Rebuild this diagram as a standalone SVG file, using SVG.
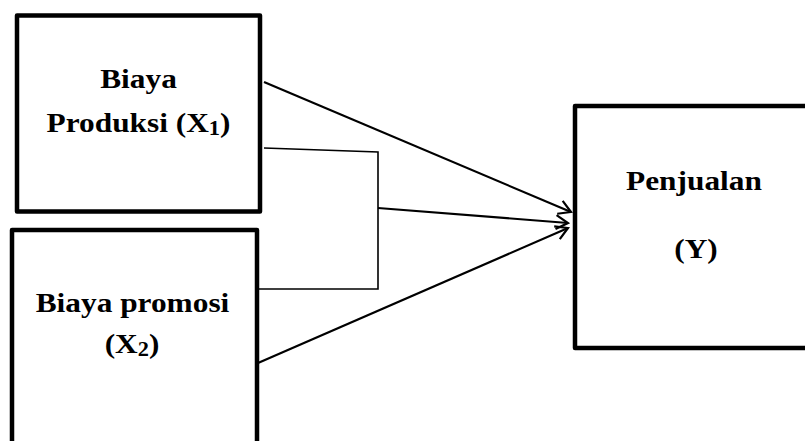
<svg xmlns="http://www.w3.org/2000/svg" width="805" height="441" viewBox="0 0 805 441">
<style>
.box{fill:#fff;stroke:#000;stroke-width:4.5;stroke-linejoin:round}
.lbl{font-family:"Liberation Serif","Times New Roman",serif;font-weight:bold;font-size:28px;fill:#000;text-anchor:middle}
.arr{fill:none;stroke:#000;stroke-width:2.2}
.brk{fill:none;stroke:#000;stroke-width:1.6}
</style>
<defs>
<marker id="ah" markerUnits="userSpaceOnUse" markerWidth="16" markerHeight="16" viewBox="0 0 16 16" refX="14" refY="8" orient="auto">
<path d="M2,1 L14,8 L2,15" fill="none" stroke="#000" stroke-width="2.2"/>
</marker>
</defs>
<rect width="805" height="441" fill="#fff"/>
<g id="node-x1">
<rect class="box" x="17" y="15.5" width="243" height="196"/>
<text class="lbl" transform="translate(138.5,88) scale(1.12,1)" x="0" y="0">Biaya</text>
<text class="lbl" transform="translate(138.5,132) scale(1.12,1)" x="0" y="0">Produksi (X<tspan font-size="20" dy="3">1</tspan><tspan dy="-3">)</tspan></text>
</g>
<g id="node-x2">
<rect class="box" x="12" y="230" width="245" height="230"/>
<text class="lbl" transform="translate(132.5,312) scale(1.12,1)" x="0" y="0">Biaya promosi</text>
<text class="lbl" transform="translate(132,353) scale(1.12,1)" x="0" y="0">(X<tspan font-size="20" dy="3">2</tspan><tspan dy="-3">)</tspan></text>
</g>
<g id="node-y">
<rect class="box" x="575" y="106" width="260" height="242"/>
<text class="lbl" transform="translate(694,190) scale(1.12,1)" x="0" y="0">Penjualan</text>
<text class="lbl" transform="translate(696,258) scale(1.12,1)" x="0" y="0">(Y)</text>
</g>
<g id="connectors">
<line class="arr" x1="264" y1="82" x2="571" y2="212" marker-end="url(#ah)"/>
<polyline class="brk" points="264,148 378,152 378,289 258,289"/>
<line class="arr" x1="378" y1="208" x2="568" y2="223" marker-end="url(#ah)"/>
<line class="arr" x1="258" y1="363" x2="568" y2="228" marker-end="url(#ah)"/>
</g>
</svg>
